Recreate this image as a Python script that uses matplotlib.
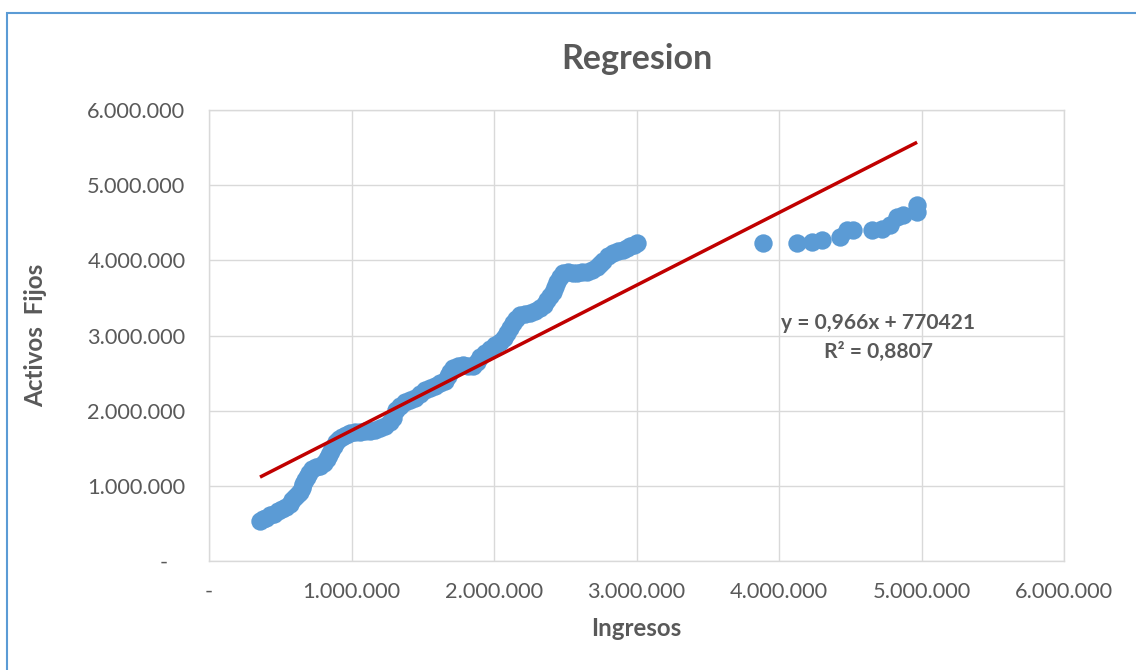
import matplotlib.pyplot as plt
from matplotlib.patches import Rectangle
from matplotlib.ticker import FuncFormatter, MultipleLocator

# Ingresos vs Activos Fijos (miles)
ingresos = [358, 379, 400, 428, 456, 484, 512, 540, 568, 582, 604, 625, 639, 653, 660,
            674, 688, 702, 723, 751, 779, 807, 828, 842, 856, 877, 891, 912, 933, 961,
            990, 1025, 1060, 1095, 1130, 1165, 1200, 1235, 1270, 1291, 1312, 1340, 1376,
            1411, 1446, 1481, 1516, 1551, 1586, 1621, 1656, 1677, 1691, 1712, 1747, 1783,
            1818, 1853, 1881, 1902, 1937, 1972, 2007, 2042, 2070, 2091, 2112, 2133, 2154,
            2183, 2218, 2253, 2288, 2323, 2351, 2372, 2393, 2414, 2428, 2442, 2463, 2484,
            2519, 2555, 2583, 2618, 2653, 2688, 2723, 2744, 2765, 2800, 2835, 2870, 2905,
            2933, 2954, 2983, 3004,
            3888, 4127, 4232, 4302, 4428, 4477, 4520, 4653, 4723, 4779, 4828, 4871, 4969, 4969]
activos = [532, 559, 572, 612, 625, 665, 692, 718, 758, 811, 851, 891, 918, 971, 1024,
           1078, 1117, 1171, 1224, 1250, 1264, 1304, 1357, 1410, 1463, 1530, 1583, 1623, 1650, 1676,
           1703, 1716, 1716, 1729, 1729, 1743, 1769, 1796, 1849, 1902, 2009, 2062, 2115,
           2142, 2168, 2222, 2275, 2301, 2328, 2368, 2395, 2461, 2514, 2567, 2594, 2607,
           2594, 2594, 2647, 2714, 2767, 2820, 2873, 2913, 2967, 3033, 3100, 3166, 3219,
           3272, 3286, 3299, 3326, 3366, 3406, 3472, 3525, 3579, 3645, 3711, 3778, 3831,
           3845, 3831, 3831, 3845, 3845, 3871, 3911, 3951, 3991, 4057, 4097, 4124, 4137,
           4164, 4190, 4204, 4230,
           4230, 4230, 4244, 4270, 4310, 4403, 4403, 4403, 4417, 4470, 4576, 4603, 4643, 4736]

x = [v * 1000 for v in ingresos]
y = [v * 1000 for v in activos]

pendiente = 0.966
intercepto = 770421
r2 = 0.8807

gris = "#595959"
plt.rcParams['font.family'] = ['Lato', 'DejaVu Sans']

fig = plt.figure(figsize=(11.36, 6.70), dpi=100)
ax = fig.add_axes([209 / 1136, 109 / 670, 855 / 1136, 451 / 670])

ax.scatter(x, y, s=175, color="#5B9BD5", zorder=3, linewidths=0)

# linea de tendencia
x_lin = [min(x), max(x)]
y_lin = [pendiente * v + intercepto for v in x_lin]
ax.plot(x_lin, y_lin, color="#C00000", lw=2.5, zorder=4, solid_capstyle="butt")

ax.set_xlim(0, 6000000)
ax.set_ylim(0, 6000000)
ax.xaxis.set_major_locator(MultipleLocator(1000000))
ax.yaxis.set_major_locator(MultipleLocator(1000000))


def fmt(v, pos):
    if v == 0:
        return "-"
    return f"{int(v):,}".replace(",", ".")


def fmt_y(v, pos):
    if v == 0:
        return "-   "
    return fmt(v, pos)


ax.xaxis.set_major_formatter(FuncFormatter(fmt))
ax.yaxis.set_major_formatter(FuncFormatter(fmt_y))
ax.tick_params(length=0, labelsize=15.7, labelcolor=gris)
ax.tick_params(axis="x", pad=15)
ax.tick_params(axis="y", pad=17)

ax.grid(True, color="#D9D9D9", lw=1)
ax.set_axisbelow(True)
for s in ax.spines.values():
    s.set_color("#D9D9D9")
    s.set_linewidth(1)

ax.set_title("Regresion", fontsize=24.5, fontweight="bold", color=gris, pad=29.5)
ax.set_xlabel("Ingresos", fontsize=17.3, fontweight="bold", color=gris, labelpad=11)
ax.set_ylabel("Activos  Fijos", fontsize=17.5, fontweight="bold", color=gris, labelpad=29)

ax.text(4695000, 3166000, f"y = {pendiente:.3f}x + {intercepto}".replace(".", ","),
        fontsize=15.1, fontweight="bold", color=gris, ha="center", va="center")
ax.text(4695000, 2780000, f"R² = {r2:.4f}".replace(".", ","),
        fontsize=15.1, fontweight="bold", color=gris, ha="center", va="center")

# borde del area del grafico
fig.patches.append(Rectangle((6.5 / 1136, -0.05), 1.2, (670 - 12.5) / 670 + 0.05,
                             transform=fig.transFigure, fill=False,
                             edgecolor="#5B9BD5", lw=1.5))

fig.savefig("out.png", dpi=100, facecolor="white")
